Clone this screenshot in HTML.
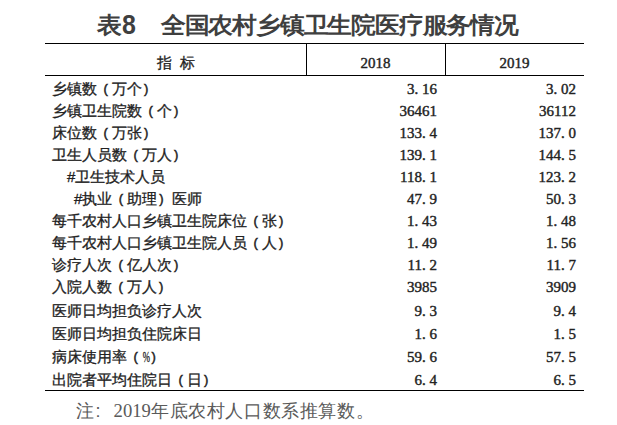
<!DOCTYPE html>
<html><head><meta charset="utf-8">
<style>
html,body{margin:0;padding:0;background:#fff;}
body{width:617px;height:425px;position:relative;overflow:hidden;font-family:"Liberation Sans",sans-serif;}
.title{position:absolute;left:97px;top:8px;font-size:25px;line-height:34px;font-weight:bold;color:#3f3f3f;white-space:nowrap;transform:scaleY(0.93);transform-origin:0 5px;}
.title .e8{display:inline-block;font-size:29px;transform:scaleX(.86);transform-origin:0 0;width:14px;vertical-align:top;position:relative;top:1px;}
.title .t2{letter-spacing:-1.2px;margin-left:1px;}
.hl{position:absolute;left:45px;width:539px;height:1px;background:#000;}
.vl{position:absolute;top:43px;height:33px;width:1px;background:#000;}
.hd{position:absolute;top:50px;height:26px;line-height:26px;font-size:15px;color:#222;text-align:center;-webkit-text-stroke:0.3px #222;}
.hd.yr{font-family:"Liberation Serif",serif;font-size:15px;-webkit-text-stroke:0.4px #222;}
.sp{display:inline-block;width:8px;}
.row{position:absolute;left:52px;height:22px;line-height:22px;width:532px;font-size:15px;color:#222;-webkit-text-stroke:0.3px #222;white-space:nowrap;}
.row .n{position:absolute;top:0;text-align:right;font-family:"Liberation Serif",serif;font-size:15px;color:#222;-webkit-text-stroke:0.4px #222;}
.row .a{right:147px;}
.row .b{right:8px;}
.pc{display:inline-block;width:7.5px;text-align:center;white-space:nowrap;}
.pc i{font-style:normal;display:inline-block;transform:scaleX(.58);margin:0 -3px;font-family:"Liberation Serif",serif;}
.lp,.rp{display:inline-block;position:relative;top:-1.5px;width:15px;font-weight:normal;font-family:"Liberation Sans",sans-serif;font-size:13px;-webkit-text-stroke:0.5px #222;}
.lp{text-indent:6.5px;}
.rp{text-indent:2px;}
.d{display:inline-block;width:7.5px;text-align:left;}
.note{position:absolute;left:76px;top:398px;font-size:18px;letter-spacing:0.6px;line-height:26px;color:#5a5a5a;white-space:nowrap;}
.note .cl{display:inline-block;width:19px;font-weight:normal;font-family:"Liberation Sans",sans-serif;text-indent:1px;}
.note .dg{font-family:"Liberation Serif",serif;font-size:18.67px;letter-spacing:0;}
</style></head><body>
<div class="title">表<span class="e8">8</span><span class="t2">　全国农村乡镇卫生院医疗服务情况</span></div>
<div class="hl" style="top:43px"></div>
<div class="hl" style="top:75px"></div>
<div class="vl" style="left:306px"></div>
<div class="vl" style="left:445px"></div>
<div class="hd" style="left:45px;width:261px">指<span class="sp"></span>标</div>
<div class="hd yr" style="left:306px;width:139px">2018</div>
<div class="hd yr" style="left:445px;width:139px">2019</div>

<div class="row" style="top:78px">乡镇数<b class="lp">(</b>万个<b class="rp">)</b><span class="n a">3<span class="d">.</span>16</span><span class="n b">3<span class="d">.</span>02</span></div>
<div class="row" style="top:100px">乡镇卫生院数<b class="lp">(</b>个<b class="rp">)</b><span class="n a">36461</span><span class="n b">36112</span></div>
<div class="row" style="top:122px">床位数<b class="lp">(</b>万张<b class="rp">)</b><span class="n a">133<span class="d">.</span>4</span><span class="n b">137<span class="d">.</span>0</span></div>
<div class="row" style="top:144px">卫生人员数<b class="lp">(</b>万人<b class="rp">)</b><span class="n a">139<span class="d">.</span>1</span><span class="n b">144<span class="d">.</span>5</span></div>
<div class="row" style="top:166px;left:67px;width:517px">#卫生技术人员<span class="n a">118<span class="d">.</span>1</span><span class="n b">123<span class="d">.</span>2</span></div>
<div class="row" style="top:188px;left:74px;width:510px">#执业<b class="lp">(</b>助理<b class="rp">)</b>医师<span class="n a">47<span class="d">.</span>9</span><span class="n b">50<span class="d">.</span>3</span></div>
<div class="row" style="top:210px">每千农村人口乡镇卫生院床位<b class="lp">(</b>张<b class="rp">)</b><span class="n a">1<span class="d">.</span>43</span><span class="n b">1<span class="d">.</span>48</span></div>
<div class="row" style="top:232px">每千农村人口乡镇卫生院人员<b class="lp">(</b>人<b class="rp">)</b><span class="n a">1<span class="d">.</span>49</span><span class="n b">1<span class="d">.</span>56</span></div>
<div class="row" style="top:254px">诊疗人次<b class="lp">(</b>亿人次<b class="rp">)</b><span class="n a">11<span class="d">.</span>2</span><span class="n b">11<span class="d">.</span>7</span></div>
<div class="row" style="top:276px">入院人数<b class="lp">(</b>万人<b class="rp">)</b><span class="n a">3985</span><span class="n b">3909</span></div>
<div class="row" style="top:300px">医师日均担负诊疗人次<span class="n a">9<span class="d">.</span>3</span><span class="n b">9<span class="d">.</span>4</span></div>
<div class="row" style="top:323px">医师日均担负住院床日<span class="n a">1<span class="d">.</span>6</span><span class="n b">1<span class="d">.</span>5</span></div>
<div class="row" style="top:346px">病床使用率<b class="lp">(</b><span class="pc"><i>%</i></span><b class="rp">)</b><span class="n a">59<span class="d">.</span>6</span><span class="n b">57<span class="d">.</span>5</span></div>
<div class="row" style="top:369px">出院者平均住院日<b class="lp">(</b>日<b class="rp">)</b><span class="n a">6<span class="d">.</span>4</span><span class="n b">6<span class="d">.</span>5</span></div>
<div class="hl" style="top:390px"></div>
<div class="note">注<b class="cl">:</b><span class="dg">2019</span>年底农村人口数系推算数。</div>
</body></html>
